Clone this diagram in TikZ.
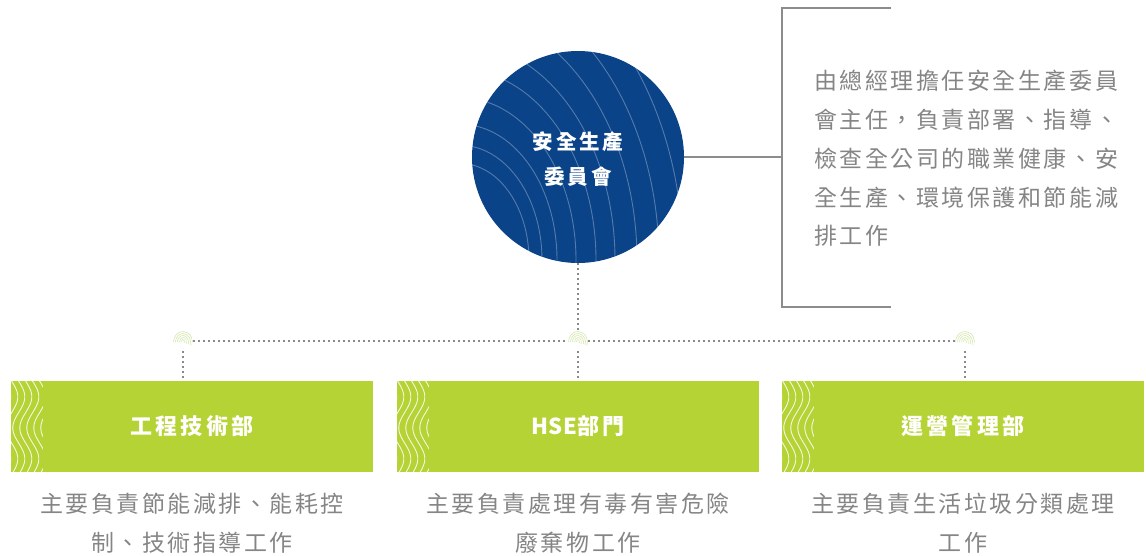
\documentclass[tikz,border=0pt]{standalone}
\usepackage{fontspec}
\newfontfamily\cjk[LetterSpace=11]{Noto Sans CJK TC}
\newfontfamily\cjkt[LetterSpace=14]{Noto Sans CJK TC}
\newfontfamily\cjkn[LetterSpace=4]{Noto Sans CJK TC}
\definecolor{navy}{HTML}{0B4388}
\definecolor{lime}{HTML}{B5D334}
\definecolor{txtgray}{HTML}{858585}
\definecolor{linegray}{HTML}{8C8C8C}
\definecolor{dotgray}{HTML}{8A8A8A}
\definecolor{iconline}{HTML}{D3E6AA}
\begin{document}
\begin{tikzpicture}[x=1pt,y=1pt,
  txt/.style={font=\cjk\fontsize{23}{38.8}\selectfont, text=txtgray, inner sep=0pt},
  deptbox/.style={fill=lime, minimum width=362pt, minimum height=91pt, inner sep=0pt,
    text=white, font=\cjkt\bfseries\fontsize{22}{25}\selectfont},
  bracketline/.style={draw=linegray, line width=1.2pt},
  dotline/.style={draw=dotgray, line width=1.8pt, dash pattern=on 1.6pt off 3.4pt},
  wave/.style={draw=white, line width=0.9pt, opacity=0.85},
  contour/.style={draw=white, line width=0.9pt, opacity=0.3},
  iconnode/.style={circle, minimum size=20pt, inner sep=0pt,
    path picture={\foreach \r in {1.5,3.5,...,11.5}
      \draw[iconline, line width=0.6pt] (path picture bounding box.center) ++(-\r,-1)
        arc[start angle=180, end angle=-20, x radius=\r, y radius={\r+1}];}}
]
\useasboundingbox (0,0) rectangle (1146,-555);

% committee circle
\node[circle, fill=navy, minimum size=212pt, inner sep=0pt] (com) at (578,-157) {};
\begin{scope}
  \clip (578,-157) circle (106);
  \begin{scope}[shift={(460,-260)}]
  \foreach \a in {69,82,97,116,136,155,177,199,223}
    \draw[contour] (0,{1.4*\a}) arc[start angle=90, end angle=-12, x radius=\a, y radius={1.4*\a}];
  \end{scope}
\end{scope}
\node[font=\cjkt\bfseries\fontsize{20.5}{35}\selectfont, text=white, align=center] (comt) at (578,-159) {安全生產\\委員會};

% bracket and description
\coordinate (bk) at (782,-157);
\draw[bracketline] (com.east) -- (bk);
\draw[bracketline] (891,-8) -- (782,-8) -- (782,-307) -- (891,-307);
\node[txt, anchor=north west, align=left] (desc) at (814,-70)
  {由總經理擔任安全生產委員\\會主任，負責部署、指導、\\檢查全公司的職業健康、安\\全生產、環境保護和節能減\\排工作};

% icons
\node[iconnode] (i1) at (183,-341) {};
\node[iconnode] (i2) at (578,-341) {};
\node[iconnode] (i3) at (965,-341) {};

% department boxes
\node[deptbox] (b1) at (192,-426.5) {工程技術部};
\node[deptbox] (b2) at (578,-426.5) {{\cjkn HSE}部門};
\node[deptbox] (b3) at (963,-426.5) {運營管理部};

\foreach \b in {b1,b2,b3}{
  \begin{scope}
    \clip (\b.south west) rectangle ++(32,91);
    \begin{scope}[shift={(\b.north west)}]
    \foreach \k in {-6,1,8,15,22,29,36}
      \draw[wave] plot[variable=\u, domain=0:91, samples=60, smooth]
        ({\k+6*cos(5.806*(\u-16))},{-\u});
    \end{scope}
  \end{scope}
}

% dotted connectors
\draw[dotline] (com.south) -- (i2.north);
\draw[dotline] (i1.east) -- (i2.west);
\draw[dotline] (i2.east) -- (i3.west);
\draw[dotline] (i1.south) -- (i1.south |- b1.north);
\draw[dotline] (i2.south) -- (i2.south |- b2.north);
\draw[dotline] (i3.south) -- (i3.south |- b3.north);

% descriptions under boxes
\node[txt, align=center, anchor=north] (d1) at (192,-493) {主要負責節能減排、能耗控\\制、技術指導工作};
\node[txt, align=center, anchor=north] (d2) at (578,-493) {主要負責處理有毒有害危險\\廢棄物工作};
\node[txt, align=center, anchor=north] (d3) at (963,-493) {主要負責生活垃圾分類處理\\工作};
\end{tikzpicture}
\end{document}
